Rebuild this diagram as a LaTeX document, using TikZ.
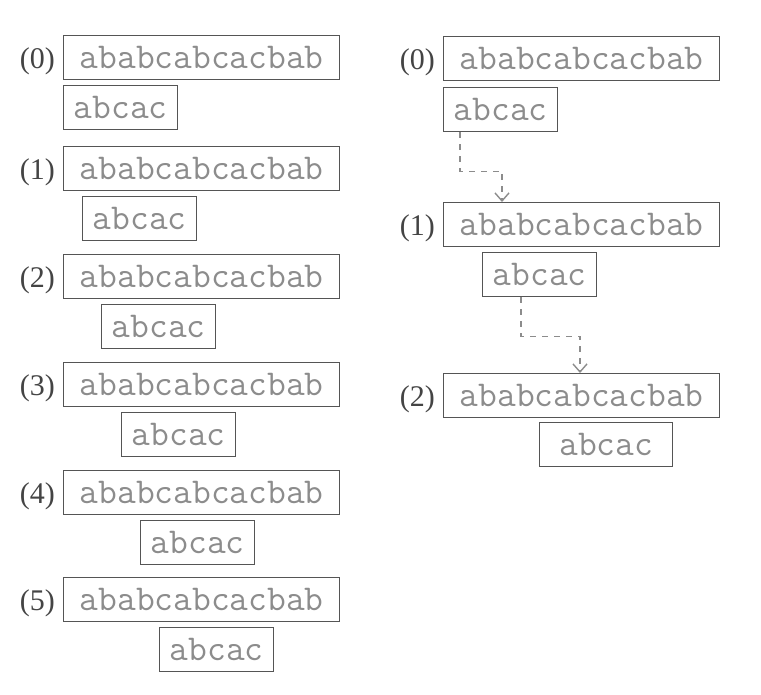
\documentclass[tikz,border=0pt]{standalone}
\usepackage{fontspec}
\setmainfont{Liberation Serif}
\usepackage{xcolor}
\usepackage{tikz}
\usetikzlibrary{arrows.meta,positioning,calc}
\definecolor{boxGray}{HTML}{555555}
\definecolor{txtGray}{HTML}{8C8C8C}
\definecolor{lblGray}{HTML}{444444}

\begin{document}
\begin{tikzpicture}[x=0.5pt, y=-0.5pt,
  strbox/.style={draw=boxGray, line width=0.7pt, anchor=north west, minimum width=138pt, minimum height=22pt, inner sep=0pt, text=txtGray, font=\fontsize{18.2}{18}\ttfamily},
  patbox/.style={strbox, minimum width=57pt},
  steplabel/.style={anchor=base east, text=lblGray, font=\fontsize{15}{15}\selectfont},
  link/.style={draw=txtGray, dashed, line width=0.7pt, -{Straight Barb[length=4pt,width=7pt]}}]
\useasboundingbox (0,0) rectangle (761,695);
% ---------- left column: naive shifts ----------
\node[strbox] (lt0) at (63,35) {ababcabcacbab};
\node[patbox] (lp0) at (63,85) {abcac};
\node[steplabel] (ll0) at ([xshift=-0.5pt]lt0.base west) {(0)};
\node[strbox] (lt1) at (63,146) {ababcabcacbab};
\node[patbox] (lp1) at (82,196) {abcac};
\node[steplabel] (ll1) at ([xshift=-0.5pt]lt1.base west) {(1)};
\node[strbox] (lt2) at (63,254) {ababcabcacbab};
\node[patbox] (lp2) at (101,304) {abcac};
\node[steplabel] (ll2) at ([xshift=-0.5pt]lt2.base west) {(2)};
\node[strbox] (lt3) at (63,362) {ababcabcacbab};
\node[patbox] (lp3) at (121,412) {abcac};
\node[steplabel] (ll3) at ([xshift=-0.5pt]lt3.base west) {(3)};
\node[strbox] (lt4) at (63,470) {ababcabcacbab};
\node[patbox] (lp4) at (140,520) {abcac};
\node[steplabel] (ll4) at ([xshift=-0.5pt]lt4.base west) {(4)};
\node[strbox] (lt5) at (63,577) {ababcabcacbab};
\node[patbox] (lp5) at (159,627) {abcac};
\node[steplabel] (ll5) at ([xshift=-0.5pt]lt5.base west) {(5)};
% ---------- right column: skipping shifts ----------
\node[strbox] (rt0) at (443,36) {ababcabcacbab};
\node[patbox] (rp0) at (443,87) {abcac};
\node[steplabel] (rl0) at ([xshift=-0.5pt]rt0.base west) {(0)};
\node[strbox] (rt1) at (443,202) {ababcabcacbab};
\node[patbox] (rp1) at (482,252) {abcac};
\node[steplabel] (rl1) at ([xshift=-0.5pt]rt1.base west) {(1)};
\node[strbox] (rt2) at (443,373) {ababcabcacbab};
\node[patbox, minimum width=66.5pt] (rp2) at (539,422) {abcac};
\node[steplabel] (rl2) at ([xshift=-0.5pt]rt2.base west) {(2)};
% ---------- dashed jumps ----------
\draw[link] ([xshift=8.5pt]rp0.south west) -- ++(0,39) -| ([xshift=29.5pt]rt1.north west);
\draw[link] ([xshift=19.5pt]rp1.south west) -- ++(0,39) -| ([xshift=68.5pt]rt2.north west);
\end{tikzpicture}
\end{document}
